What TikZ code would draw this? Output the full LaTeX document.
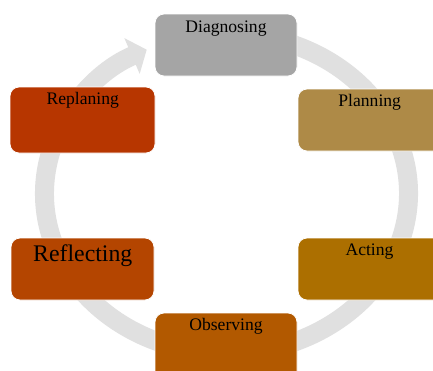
\documentclass[tikz,border=0pt]{standalone}
\usepackage{fontspec}
\setmainfont{Liberation Serif}
\usetikzlibrary{arrows.meta}
\definecolor{cDiag}{HTML}{A5A5A5}
\definecolor{cReplan}{HTML}{B73600}
\definecolor{cPlan}{HTML}{AE8A47}
\definecolor{cRefl}{HTML}{B44500}
\definecolor{cAct}{HTML}{AC6F00}
\definecolor{cObs}{HTML}{B25900}
\definecolor{cRing}{HTML}{E0E0E0}
\begin{document}
\begin{tikzpicture}[x=1pt,y=-1pt,
  box/.style={rectangle, rounded corners=9pt, draw=white, line width=0.8pt, inner sep=0pt},
  lbl/.style={anchor=base, font=\fontsize{17.6}{20}\selectfont, text=black, inner sep=0pt},
  ring/.style={draw=cRing, line width=19pt, -{Triangle[width=38pt,length=16pt]}}]
\clip (0,0) rectangle (433,370);
\fill[white] (0,0) rectangle (433,370);
\coordinate (ringc) at (226.5,193.5);
\draw[ring] (ringc) ++(-80:182 and 160) arc[start angle=-80, end angle=244, x radius=182, y radius=160];
% boxes
\path[box, fill=cDiag]   (155,14)  rectangle (297,76)  node[midway] (diag) {};
\path[box, fill=cReplan] (10,87)   rectangle (155,153) node[midway] (replan) {};
\path[box, fill=cPlan]   (298,89)  rectangle (445,151) node[midway] (plan) {};
\path[box, fill=cRefl]   (11,238)  rectangle (154,300) node[midway] (refl) {};
\path[box, fill=cAct]    (298,238) rectangle (445,300) node[midway] (act) {};
\path[box, fill=cObs]    (155,313) rectangle (297,382) node[midway] (obs) {};
% labels
\node[lbl] (diagT)   at (226,32)    {Diagnosing};
\node[lbl] (replanT) at (82.7,104.5) {Replaning};
\node[lbl] (planT)   at (369.7,106) {Planning};
\node[lbl, font=\fontsize{23.8}{26}\selectfont] (reflT) at (82.8,261) {Reflecting};
\node[lbl] (actT)    at (369.5,255.5) {Acting};
\node[lbl] (obsT)    at (226,330)   {Observing};
\end{tikzpicture}
\end{document}
